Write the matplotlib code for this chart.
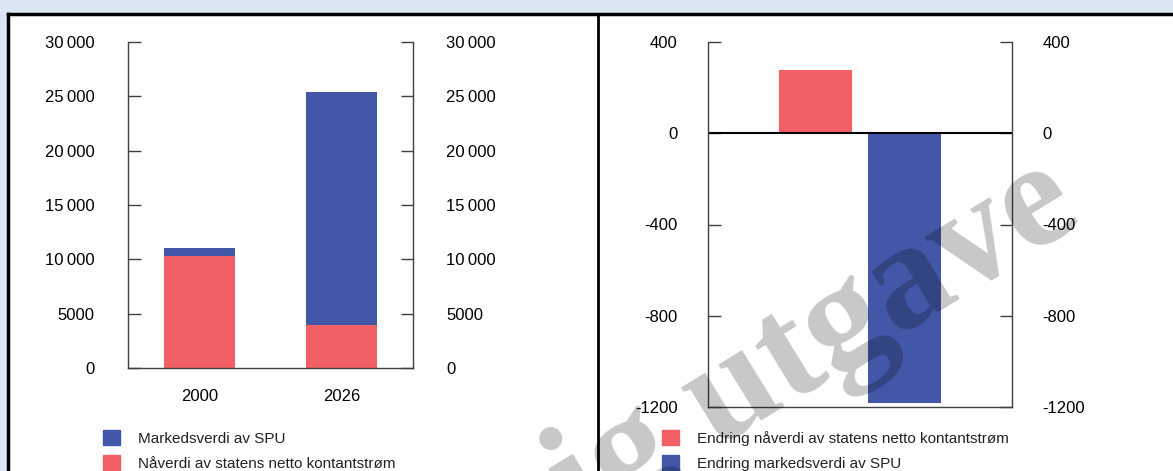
import matplotlib.pyplot as plt
from matplotlib.patches import Patch, Rectangle
from matplotlib import font_manager

# data
years = ["2000", "2026"]
naverdi = [10300, 3960]          # nåverdi av statens netto kontantstrøm
markedsverdi = [740, 21440]      # markedsverdi av SPU (stacked on top)
left_ticks = [0, 5000, 10000, 15000, 20000, 25000, 30000]
left_labels = ["0", "5000", "10\u2009000", "15\u2009000", "20\u2009000", "25\u2009000", "30\u2009000"]

endring_naverdi = 276
endring_markedsverdi = -1183
right_ticks = [-1200, -800, -400, 0, 400]
right_labels = ["-1200", "-800", "-400", "0", "400"]

RED = "#f25f64"
BLUE = "#4257a7"
SPINE = "#404040"

names = {f.name for f in font_manager.fontManager.ttflist}
fam = ["Liberation Sans Narrow", "DejaVu Sans"] if "Liberation Sans Narrow" in names else ["Liberation Sans", "DejaVu Sans"]
plt.rcParams["font.family"] = fam
plt.rcParams["font.size"] = 11
plt.rcParams["text.color"] = "#222222"

fig = plt.figure(figsize=(11.73, 4.71), dpi=100)
fig.patch.set_facecolor("#dce6f2")

# white panel with black frame
W, H = 1173, 471
fig.patches.append(Rectangle((8 / W, 0), (W - 8) / W, (H - 14) / H, transform=fig.transFigure,
                             facecolor="white", edgecolor="none", zorder=-5))
fig.lines.append(plt.Line2D([8 / W, 1], [1 - 14 / H] * 2, transform=fig.transFigure, color="black", lw=2.5, zorder=5))
fig.lines.append(plt.Line2D([8 / W] * 2, [0, 1 - 14 / H], transform=fig.transFigure, color="black", lw=2.5, zorder=5))
fig.lines.append(plt.Line2D([598 / W] * 2, [0, 1 - 14 / H], transform=fig.transFigure, color="black", lw=2, zorder=5))


def style(ax, ticks, labels, pad):
    ax.set_facecolor("none")
    ax.set_zorder(2)
    for s in ["left", "right", "bottom"]:
        ax.spines[s].set_color(SPINE)
        ax.spines[s].set_linewidth(1)
    ax.spines["top"].set_visible(False)
    ax.set_yticks(ticks)
    ax.set_yticklabels(labels)
    ax.tick_params(axis="y", direction="in", length=9, width=1, color=SPINE,
                   left=True, right=True, labelleft=True, labelright=True, pad=pad, labelsize=12)
    ax.tick_params(axis="x", length=0, labelsize=12)


# left panel
ax1 = fig.add_axes([128 / W, 1 - 368 / H, 285 / W, 326 / H])
x = range(len(years))
ax1.bar(x, naverdi, width=0.5, color=RED, label="Nåverdi av statens netto kontantstrøm")
ax1.bar(x, markedsverdi, width=0.5, bottom=naverdi, color=BLUE, label="Markedsverdi av SPU")
ax1.set_xlim(-0.5, 1.5)
ax1.set_ylim(0, 30000)
ax1.set_xticks(list(x))
ax1.set_xticklabels(years)
style(ax1, left_ticks, left_labels, 24)
ax1.tick_params(axis="x", pad=15)

# right panel
ax2 = fig.add_axes([708 / W, 1 - 407 / H, 304 / W, 365 / H])
w = 0.243
off = w / 2 + 0.025
ax2.bar(-off, endring_naverdi, width=w, color=RED)
ax2.bar(off, endring_markedsverdi, width=w, color=BLUE)
ax2.axhline(0, color="black", lw=1.5)
ax2.set_xlim(-0.5, 0.5)
ax2.set_ylim(-1200, 400)
ax2.set_xticks([])
style(ax2, right_ticks, right_labels, 22)

# legends
leg_kw = dict(loc="upper left", frameon=False, handlelength=1.1, handleheight=1.1,
              handletextpad=1.2, labelspacing=0.62, borderpad=0, borderaxespad=0, fontsize=11)
h1 = [Patch(color=BLUE), Patch(color=RED)]
l1 = fig.legend(h1, ["Markedsverdi av SPU", "Nåverdi av statens netto kontantstrøm"],
                bbox_to_anchor=(103 / W, 1 - 430 / H), **leg_kw)
h2 = [Patch(color=RED), Patch(color=BLUE)]
l2 = fig.legend(h2, ["Endring nåverdi av statens netto kontantstrøm", "Endring markedsverdi av SPU"],
                bbox_to_anchor=(662 / W, 1 - 430 / H), **leg_kw)
l1.set_zorder(3)
l2.set_zorder(3)

# watermark
fig.text(1085 / W, 1 - 222 / H, "Foreløpig utgave", rotation=31.5, rotation_mode="anchor",
         ha="right", va="baseline", fontsize=110, fontweight="bold",
         family=["Liberation Serif", "DejaVu Serif"], color="black", alpha=0.22, zorder=10)

fig.savefig("out.png", dpi=100)
